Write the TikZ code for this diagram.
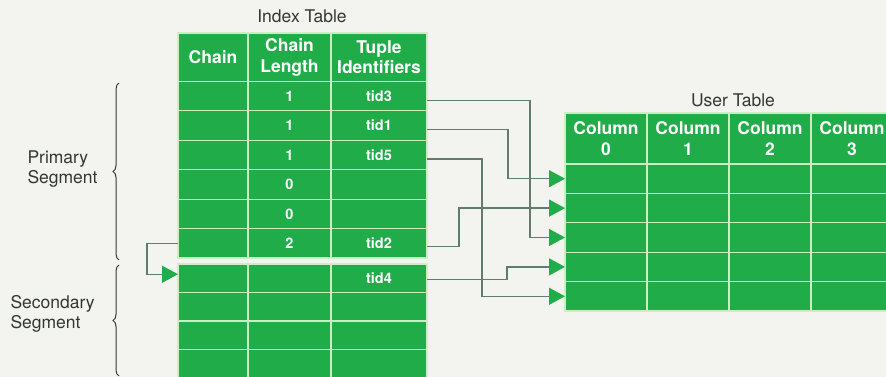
\documentclass[tikz,border=0pt]{standalone}
\usepackage{fontspec}
\setmainfont{TeX Gyre Heros}
\usepackage{tikz}
\usetikzlibrary{arrows.meta,decorations.pathreplacing}

\definecolor{tablegreen}{RGB}{32,172,72}
\definecolor{gridline}{RGB}{205,238,195}
\definecolor{linkgray}{RGB}{95,125,105}
\definecolor{paper}{RGB}{243,244,239}
\definecolor{darktext}{RGB}{50,55,50}

\begin{document}
\begin{tikzpicture}[x=1pt,y=-1pt,
  cell/.style={fill=tablegreen, draw=gridline, line width=1.2pt, text=white, inner sep=0pt, outer sep=0pt, align=center, font=\fontsize{14.5}{17}\selectfont\bfseries},
  headcell/.style={cell, font=\fontsize{17.5}{20.5}\selectfont\bfseries},
  colA/.style={minimum width=70pt},
  colB/.style={minimum width=83pt},
  colC/.style={minimum width=96pt},
  colU/.style={minimum width=82pt},
  prim/.style={minimum height=29.4pt},
  secd/.style={minimum height=28.5pt},
  title/.style={text=darktext, font=\fontsize{17.5}{20.5}\selectfont},
  link/.style={draw=linkgray, line width=1.3pt, -{Triangle[length=16pt,width=17pt,color=tablegreen]}},
  segbrace/.style={draw=darktext, line width=1pt, decorate, decoration={brace, amplitude=6pt}}]
\useasboundingbox (0,0) rectangle (886,377);
\fill[paper] (0,0) rectangle (886,377);
\clip (0,0) rectangle (886,377);

\node[title] (idxtitle) at (302,16) {Index Table};
\node[headcell,colA,minimum height=48.5pt] (hChain) at (213,57.25) {Chain};
\node[headcell,colB,minimum height=48.5pt] (hLen) at (289.5,57.25) {Chain\\Length};
\node[headcell,colC,minimum height=48.5pt] (hTid) at (379,57.25) {Tuple\\Identifiers};

\node[cell,colA,prim] (c1) at (213,96.2) {};
\node[cell,colB,prim] (l1) at (289.5,96.2) {1};
\node[cell,colC,prim] (t1) at (379,96.2) {tid3};
\node[cell,colA,prim] (c2) at (213,125.6) {};
\node[cell,colB,prim] (l2) at (289.5,125.6) {1};
\node[cell,colC,prim] (t2) at (379,125.6) {tid1};
\node[cell,colA,prim] (c3) at (213,155.0) {};
\node[cell,colB,prim] (l3) at (289.5,155.0) {1};
\node[cell,colC,prim] (t3) at (379,155.0) {tid5};
\node[cell,colA,prim] (c4) at (213,184.4) {};
\node[cell,colB,prim] (l4) at (289.5,184.4) {0};
\node[cell,colC,prim] (t4) at (379,184.4) {};
\node[cell,colA,prim] (c5) at (213,213.9) {};
\node[cell,colB,prim] (l5) at (289.5,213.9) {0};
\node[cell,colC,prim] (t5) at (379,213.9) {};
\node[cell,colA,prim] (c6) at (213,243.3) {};
\node[cell,colB,prim] (l6) at (289.5,243.3) {2};
\node[cell,colC,prim] (t6) at (379,243.3) {tid2};

\node[cell,colA,secd] (c7) at (213,278.25) {};
\node[cell,colB,secd] (l7) at (289.5,278.25) {};
\node[cell,colC,secd] (t7) at (379,278.25) {tid4};
\node[cell,colA,secd] (c8) at (213,306.75) {};
\node[cell,colB,secd] (l8) at (289.5,306.75) {};
\node[cell,colC,secd] (t8) at (379,306.75) {};
\node[cell,colA,secd] (c9) at (213,335.25) {};
\node[cell,colB,secd] (l9) at (289.5,335.25) {};
\node[cell,colC,secd] (t9) at (379,335.25) {};
\node[cell,colA,secd] (c10) at (213,363.75) {};
\node[cell,colB,secd] (l10) at (289.5,363.75) {};
\node[cell,colC,secd] (t10) at (379,363.75) {};

\node[title] (usrtitle) at (733,100) {User Table};
\node[headcell,colU,minimum height=51pt] (uh0) at (606,138.5) {Column\\0};
\node[headcell,colU,minimum height=51pt] (uh1) at (688,138.5) {Column\\1};
\node[headcell,colU,minimum height=51pt] (uh2) at (770,138.5) {Column\\2};
\node[headcell,colU,minimum height=51pt] (uh3) at (852,138.5) {Column\\3};

\node[cell,colU,prim] (u1c0) at (606,178.7) {};
\node[cell,colU,prim] (u1c1) at (688,178.7) {};
\node[cell,colU,prim] (u1c2) at (770,178.7) {};
\node[cell,colU,prim] (u1c3) at (852,178.7) {};
\node[cell,colU,prim] (u2c0) at (606,208.1) {};
\node[cell,colU,prim] (u2c1) at (688,208.1) {};
\node[cell,colU,prim] (u2c2) at (770,208.1) {};
\node[cell,colU,prim] (u2c3) at (852,208.1) {};
\node[cell,colU,prim] (u3c0) at (606,237.5) {};
\node[cell,colU,prim] (u3c1) at (688,237.5) {};
\node[cell,colU,prim] (u3c2) at (770,237.5) {};
\node[cell,colU,prim] (u3c3) at (852,237.5) {};
\node[cell,colU,prim] (u4c0) at (606,266.9) {};
\node[cell,colU,prim] (u4c1) at (688,266.9) {};
\node[cell,colU,prim] (u4c2) at (770,266.9) {};
\node[cell,colU,prim] (u4c3) at (852,266.9) {};
\node[cell,colU,prim] (u5c0) at (606,296.3) {};
\node[cell,colU,prim] (u5c1) at (688,296.3) {};
\node[cell,colU,prim] (u5c2) at (770,296.3) {};
\node[cell,colU,prim] (u5c3) at (852,296.3) {};

\draw[link] ([yshift=-4pt]t1.east) -- ++(103,0) |- (u3c0.west);
\draw[link] ([yshift=-4pt]t2.east) -- ++(81,0) |- (u1c0.west);
\draw[link] ([yshift=-4pt]t3.east) -- ++(55,0) |- (u5c0.west);
\draw[link] ([yshift=-3pt]t6.east) -- ++(32,0) |- (u2c0.west);
\draw[link] ([yshift=-1pt]t7.east) -- ++(80,0) |- (u4c0.west);
\draw[link] (c6.west) -- ++(-31,0) |- ([yshift=4pt]c7.west);

\coordinate (primTop) at (119,83);
\coordinate (primBot) at (119,260);
\coordinate (secTop) at (119,265);
\coordinate (secBot) at (119,376);
\draw[segbrace] (primBot) -- (primTop);
\draw[segbrace] (secBot) -- (secTop);
\node[title, align=left, anchor=west] (primlbl) at (24,169) {Primary\\Segment};
\node[title, align=left, anchor=west] (seclbl) at (7,314) {Secondary\\Segment};
\end{tikzpicture}
\end{document}
